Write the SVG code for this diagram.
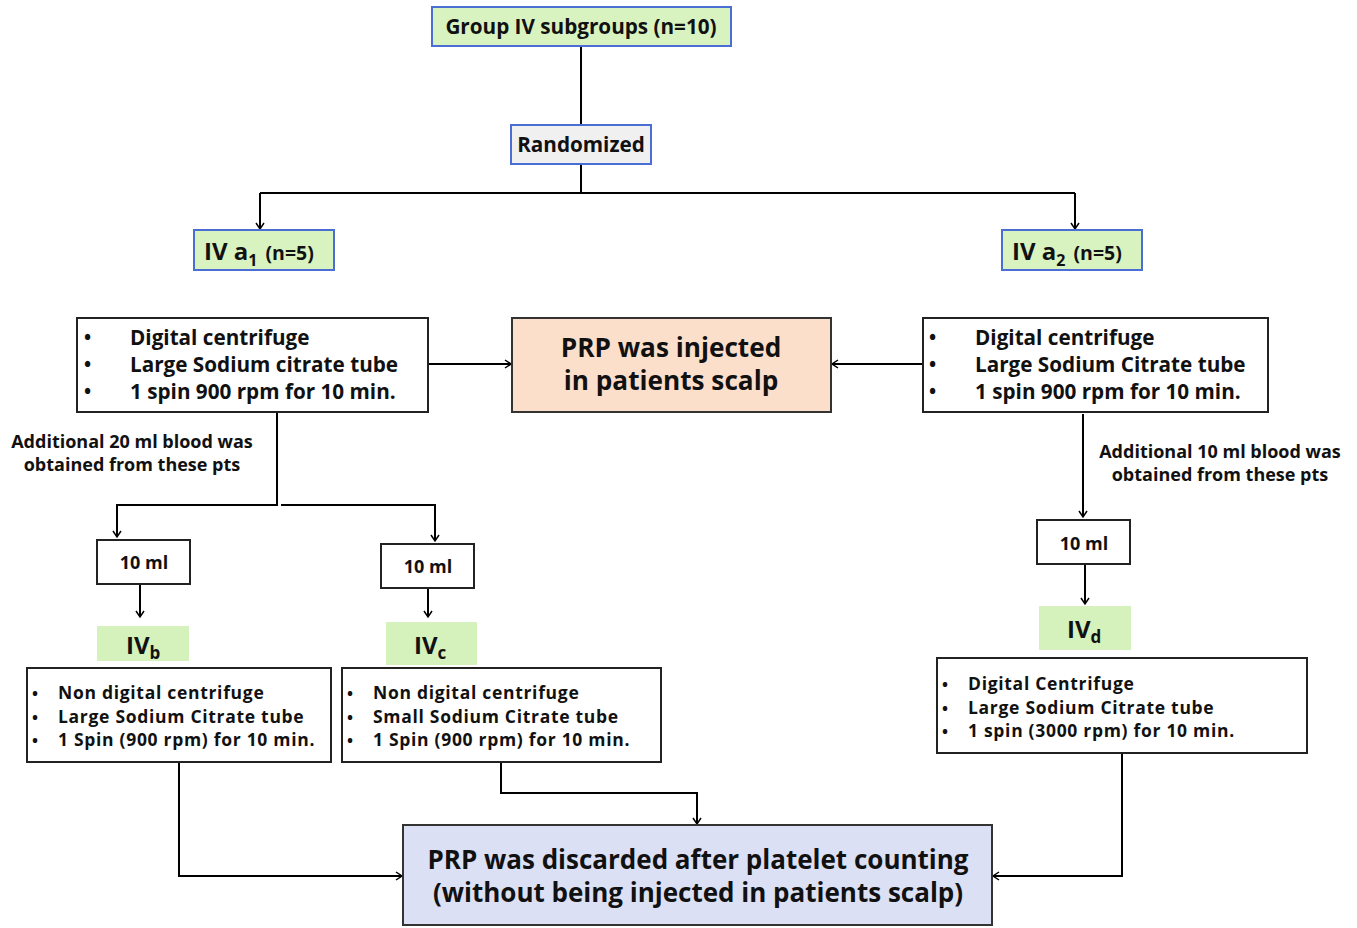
<svg xmlns="http://www.w3.org/2000/svg" width="1357" height="928" viewBox="0 0 1357 928">
<defs>
<marker id="arr" markerWidth="10" markerHeight="10" refX="8" refY="5" orient="auto" markerUnits="userSpaceOnUse">
<path d="M2,1 L8,5 L2,9" fill="none" stroke="#000" stroke-width="1.5"/>
</marker>
<style>
text{font-family:"Open Sans","Liberation Sans",sans-serif;font-weight:700;fill:#111}
.g{fill:#d9f3c0;stroke:#4a6ed4;stroke-width:2}
.gr{fill:#f0f0f0;stroke:#4a6ed4;stroke-width:2}
.w{fill:#fff;stroke:#222;stroke-width:2}
.lg{fill:#d5f2bc;stroke:none}
.c{fill:none;stroke:#000;stroke-width:2}
.b{font-size:19px}
.bs{font-size:16px;letter-spacing:0}
.t20{font-size:20.7px}
.t17{font-size:18px}
.t18{font-size:17.5px;letter-spacing:0.7px}
.t26{font-size:26.2px}
.t27{font-size:26px}
</style>
</defs>
<rect width="1357" height="928" fill="#fff"/>

<g id="connectors">
<path class="c" d="M581,46 V125"/>
<path class="c" d="M581,164 V193"/>
<path class="c" d="M260,193 H1075"/>
<path class="c" d="M260,193 V229" marker-end="url(#arr)"/>
<path class="c" d="M1075,193 V229" marker-end="url(#arr)"/>
<path class="c" d="M428,364 H511" marker-end="url(#arr)"/>
<path class="c" d="M923,364 H832" marker-end="url(#arr)"/>
<path class="c" d="M277,412 V505 H117 V537" marker-end="url(#arr)"/>
<path class="c" d="M281,505 H435 V541" marker-end="url(#arr)"/>
<path class="c" d="M140,585 V617" marker-end="url(#arr)"/>
<path class="c" d="M428,589 V617" marker-end="url(#arr)"/>
<path class="c" d="M1083,414 V517" marker-end="url(#arr)"/>
<path class="c" d="M1085,564 V604" marker-end="url(#arr)"/>
<path class="c" d="M179,762 V876 H402" marker-end="url(#arr)"/>
<path class="c" d="M501,762 V793 H697 V824" marker-end="url(#arr)"/>
<path class="c" d="M1122,753 V876 H993" marker-end="url(#arr)"/>
</g>

<g id="group4">
<rect class="g" x="432" y="7" width="299" height="39"/>
<text class="t20" x="581" y="34" text-anchor="middle">Group IV subgroups (n=10)</text>
</g>

<g id="randomized">
<rect class="gr" x="511" y="125" width="140" height="39"/>
<text class="t20" x="581" y="152" text-anchor="middle">Randomized</text>
</g>

<g id="iva1">
<rect class="g" x="194" y="230" width="140" height="40"/>
<text x="204" y="260"><tspan font-size="24px">IV a</tspan><tspan font-size="16px" dy="6">1</tspan><tspan font-size="19.5px" dy="-6" dx="3"> (n=5)</tspan></text>
</g>

<g id="iva2">
<rect class="g" x="1002" y="230" width="140" height="40"/>
<text x="1012" y="260"><tspan font-size="24px">IV a</tspan><tspan font-size="16px" dy="6">2</tspan><tspan font-size="19.5px" dy="-6" dx="3"> (n=5)</tspan></text>
</g>

<g id="left-proc">
<rect class="w" x="77" y="318" width="351" height="94"/>
<text class="t20"><tspan class="b" x="84" y="344">•</tspan><tspan x="130" y="345">Digital centrifuge</tspan><tspan class="b" x="84" y="371">•</tspan><tspan x="130" y="372">Large Sodium citrate tube</tspan><tspan class="b" x="84" y="398">•</tspan><tspan x="130" y="399">1 spin 900 rpm for 10 min.</tspan></text>
</g>

<g id="injected">
<rect x="512" y="318" width="319" height="94" fill="#fbdfcb" stroke="#333" stroke-width="2"/>
<text class="t26" x="671" y="357" text-anchor="middle">PRP was injected</text>
<text class="t26" x="671" y="390" text-anchor="middle">in patients scalp</text>
</g>

<g id="right-proc">
<rect class="w" x="923" y="318" width="345" height="94"/>
<text class="t20"><tspan class="b" x="929" y="344">•</tspan><tspan x="975" y="345">Digital centrifuge</tspan><tspan class="b" x="929" y="371">•</tspan><tspan x="975" y="372">Large Sodium Citrate tube</tspan><tspan class="b" x="929" y="398">•</tspan><tspan x="975" y="399">1 spin 900 rpm for 10 min.</tspan></text>
</g>

<g id="note-left">
<text class="t17" x="132" y="448" text-anchor="middle">Additional 20 ml blood was</text>
<text class="t17" x="132" y="471" text-anchor="middle">obtained from these pts</text>
</g>

<g id="note-right">
<text class="t17" x="1220" y="458" text-anchor="middle">Additional 10 ml blood was</text>
<text class="t17" x="1220" y="481" text-anchor="middle">obtained from these pts</text>
</g>

<g id="ml-b">
<rect class="w" x="97" y="540" width="93" height="44"/>
<text class="t17" x="144" y="569" text-anchor="middle">10 ml</text>
</g>
<g id="ml-c">
<rect class="w" x="381" y="544" width="93" height="44"/>
<text class="t17" x="428" y="573" text-anchor="middle">10 ml</text>
</g>
<g id="ml-d">
<rect class="w" x="1037" y="520" width="93" height="44"/>
<text class="t17" x="1084" y="550" text-anchor="middle">10 ml</text>
</g>

<g id="ivb">
<rect class="lg" x="97" y="626" width="92" height="35"/>
<text x="126" y="654"><tspan font-size="24px">IV</tspan><tspan font-size="17px" dy="5">b</tspan></text>
</g>
<g id="ivc">
<rect class="lg" x="386" y="622" width="91" height="43"/>
<text x="414" y="654"><tspan font-size="24px">IV</tspan><tspan font-size="17px" dy="5">c</tspan></text>
</g>
<g id="ivd">
<rect class="lg" x="1039" y="606" width="92" height="44"/>
<text x="1067" y="638"><tspan font-size="24px">IV</tspan><tspan font-size="17px" dy="5">d</tspan></text>
</g>

<g id="box-b">
<rect class="w" x="27" y="668" width="304" height="94"/>
<text class="t18"><tspan class="bs" x="32" y="699">•</tspan><tspan x="58" y="699">Non digital centrifuge</tspan><tspan class="bs" x="32" y="722.5">•</tspan><tspan x="58" y="722.5">Large Sodium Citrate tube</tspan><tspan class="bs" x="32" y="746">•</tspan><tspan x="58" y="746">1 Spin (900 rpm) for 10 min.</tspan></text>
</g>
<g id="box-c">
<rect class="w" x="342" y="668" width="319" height="94"/>
<text class="t18"><tspan class="bs" x="347" y="699">•</tspan><tspan x="373" y="699">Non digital centrifuge</tspan><tspan class="bs" x="347" y="722.5">•</tspan><tspan x="373" y="722.5">Small Sodium Citrate tube</tspan><tspan class="bs" x="347" y="746">•</tspan><tspan x="373" y="746">1 Spin (900 rpm) for 10 min.</tspan></text>
</g>
<g id="box-d">
<rect class="w" x="937" y="658" width="370" height="95"/>
<text class="t18"><tspan class="bs" x="942" y="690">•</tspan><tspan x="968" y="690">Digital Centrifuge</tspan><tspan class="bs" x="942" y="713.5">•</tspan><tspan x="968" y="713.5">Large Sodium Citrate tube</tspan><tspan class="bs" x="942" y="737">•</tspan><tspan x="968" y="737">1 spin (3000 rpm) for 10 min.</tspan></text>
</g>

<g id="discarded">
<rect x="403" y="825" width="589" height="100" fill="#dce0f4" stroke="#333" stroke-width="2"/>
<text class="t27" x="698" y="869" text-anchor="middle">PRP was discarded after platelet counting</text>
<text class="t27" x="698" y="902" text-anchor="middle">(without being injected in patients scalp)</text>
</g>
</svg>
